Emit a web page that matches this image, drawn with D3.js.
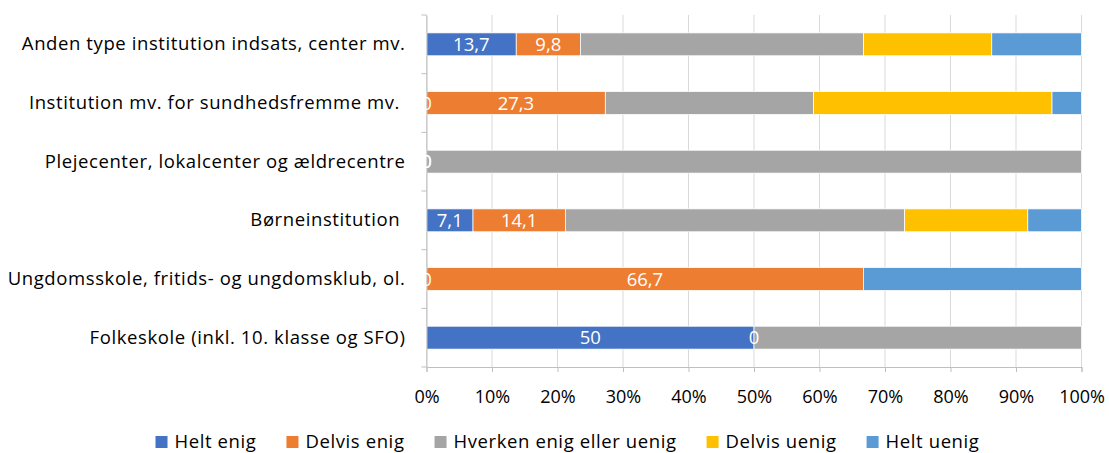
<!DOCTYPE html>
<html>
<head>
<meta charset="utf-8">
<script src="https://cdn.jsdelivr.net/npm/d3@7"></script>
<style>
  html, body { margin: 0; padding: 0; background: #fff; }
  svg text { font-family: "Open Sans", "Noto Sans", sans-serif; }
</style>
</head>
<body>
<svg id="chart" width="1109" height="453"></svg>
<script>
// Institution types (top to bottom)
const categories = [
  "Anden type institution indsats, center mv.",
  "Institution mv. for sundhedsfremme mv. ",
  "Plejecenter, lokalcenter og ældrecentre",
  "Børneinstitution ",
  "Ungdomsskole, fritids- og ungdomsklub, ol.",
  "Folkeskole (inkl. 10. klasse og SFO)"
];

// Answer shares in percent, one array per answer option
const seriesNames = ["Helt enig", "Delvis enig", "Hverken enig eller uenig", "Delvis uenig", "Helt uenig"];
const heltEnig    = [13.7, 0,    0,   7.1,  0,    50];
const delvisEnig  = [9.8,  27.3, 0,   14.1, 66.7, 0];
const hverken     = [43.2, 31.8, 100, 51.8, 0,    50];
const delvisUenig = [19.6, 36.4, 0,   18.8, 0,    0];
const heltUenig   = [13.7, 4.5,  0,   8.2,  33.3, 0];

const seriesValues = [heltEnig, delvisEnig, hverken, delvisUenig, heltUenig];
const colors = ["#4472C4", "#ED7D31", "#A5A5A5", "#FFC000", "#5B9BD5"];
const labelledSeries = [0, 1]; // data labels shown for these series

const xTicks = [0, 10, 20, 30, 40, 50, 60, 70, 80, 90, 100];

const margin = { left: 426.5, right: 1109 - 1081.5, top: 15, bottom: 453 - 367 };
const svg = d3.select("#chart");
const textSize = 18.5;
const spacing = 0.6;

const x = d3.scaleLinear().domain([0, 100]).range([margin.left, 1081.5]);
const y = d3.scaleBand().domain(categories).range([margin.top, 367]).paddingInner(0.61).paddingOuter(0.305);

// vertical gridlines
svg.append("g")
  .selectAll("line")
  .data(xTicks)
  .join("line")
  .attr("x1", d => x(d)).attr("x2", d => x(d))
  .attr("y1", margin.top).attr("y2", 367)
  .attr("stroke", "#D9D9D9").attr("stroke-width", 1);

// stacked rows
const rows = categories.map((c, i) => {
  let acc = 0;
  return seriesValues.map((vals, s) => {
    const v = vals[i];
    const seg = { cat: c, s, v, x0: acc, x1: acc + v };
    acc += v;
    return seg;
  });
});
const segments = rows.flat();

svg.append("g")
  .selectAll("rect")
  .data(segments.filter(d => d.v > 0))
  .join("rect")
  .attr("x", d => x(d.x0))
  .attr("width", d => x(d.x1) - x(d.x0))
  .attr("y", d => y(d.cat))
  .attr("height", y.bandwidth())
  .attr("fill", d => colors[d.s])
  .attr("stroke", "#fff")
  .attr("stroke-width", 0.75);

// x axis
const xAxis = svg.append("g")
  .attr("transform", "translate(0,367)")
  .call(d3.axisBottom(x).tickValues(xTicks).tickFormat(d => d + "%").tickSize(5).tickPadding(18));
xAxis.select(".domain").attr("stroke", "#BFBFBF");
xAxis.selectAll(".tick line").attr("stroke", "#BFBFBF");
xAxis.selectAll("text").attr("font-size", 18).attr("fill", "#000");

// y axis
const yAxis = svg.append("g")
  .attr("transform", `translate(${margin.left},0)`)
  .call(d3.axisLeft(y).tickSize(0).tickPadding(21));
yAxis.select(".domain").attr("stroke", "#BFBFBF");
yAxis.selectAll("text")
  .attr("font-size", textSize).attr("letter-spacing", spacing)
  .attr("fill", "#000").style("white-space", "pre");

// tick marks at the category boundaries
const step = y.step();
const bounds = d3.range(categories.length + 1).map(i => margin.top + i * step);
svg.append("g")
  .selectAll("line")
  .data(bounds)
  .join("line")
  .attr("x1", margin.left - 5).attr("x2", margin.left)
  .attr("y1", d => d).attr("y2", d => d)
  .attr("stroke", "#BFBFBF");

// data labels
svg.append("g")
  .selectAll("text")
  .data(segments.filter(d => labelledSeries.includes(d.s)))
  .join("text")
  .attr("x", d => x((d.x0 + d.x1) / 2))
  .attr("y", d => y(d.cat) + y.bandwidth() / 2)
  .attr("dy", "0.36em")
  .attr("text-anchor", "middle")
  .attr("font-size", 18.5)
  .attr("fill", "#fff")
  .text(d => String(d.v).replace(".", ","));

// legend
const legend = svg.append("g").attr("transform", "translate(0,441)");
const items = legend.selectAll("g")
  .data(seriesNames)
  .join("g");
items.append("rect")
  .attr("width", 12).attr("height", 12)
  .attr("y", -5)
  .attr("fill", (d, i) => colors[i]);
items.append("text")
  .attr("x", 19)
  .attr("dy", "0.36em")
  .attr("font-size", textSize)
  .attr("letter-spacing", spacing)
  .attr("fill", "#000")
  .text(d => d);
const widths = [];
items.each(function () {
  widths.push(19 + this.querySelector("text").getComputedTextLength());
});
const gap = 30;
const total = d3.sum(widths) + gap * (widths.length - 1);
let lx = 567.5 - total / 2;
items.attr("transform", (d, i) => {
  const t = `translate(${lx},0)`;
  lx += widths[i] + gap;
  return t;
});
</script>
</body>
</html>
